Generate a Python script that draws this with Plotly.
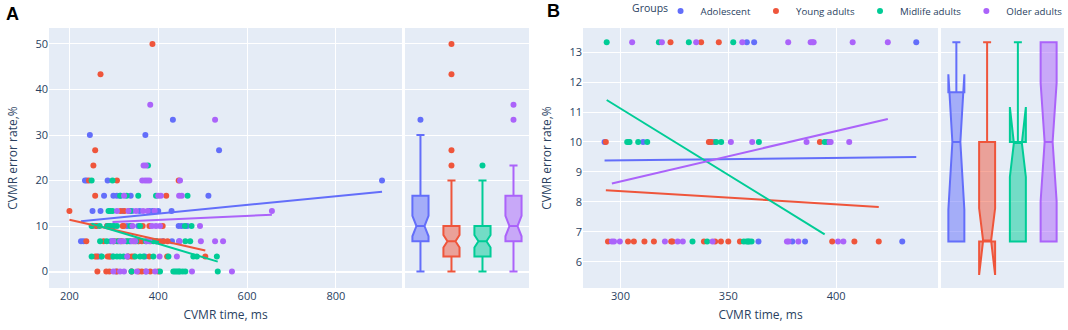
import plotly.graph_objects as go

GROUPS = ["Adolescent", "Young adults", "Midlife adults", "Older adults"]
COLORS = ["#636efa", "#EF553B", "#00cc96", "#ab63fa"]

# ---------- Panel A : CVMR time (ms) per error-rate row ----------
A_ADOLESCENT = {
    0: [305, 340, 372],
    3.33: [265, 271, 297, 331, 370],
    6.67: [226, 232, 293, 315, 338, 356, 395, 410, 431, 447],
    10: [260, 285, 300, 330, 355, 446, 453, 465],
    13.33: [252, 270, 320, 341, 358, 380, 387, 400, 430],
    16.67: [278, 299, 307, 315, 338, 513],
    20: [235, 239, 286, 904],
    26.67: [537],
    30: [246, 371],
    33.33: [433],
}
A_YOUNG = {
    0: [263, 283, 290, 307, 340, 356, 363, 382, 400],
    3.33: [258, 262, 286, 290, 292, 333, 340, 345, 380, 420, 506],
    6.67: [238, 277, 300, 307, 318, 330, 345, 355, 363, 383, 397, 404, 412, 421],
    10: [252, 261, 285, 290, 320, 322, 340, 365, 380, 410],
    13.33: [200, 315, 324, 334],
    16.67: [258, 418],
    20: [244, 307, 446],
    23.33: [254],
    26.67: [258],
    43.33: [270],
    50: [387],
}
A_MIDLIFE = {
    0: [340, 404, 434, 438, 442, 446, 449, 455, 461, 534],
    3.33: [250, 273, 299, 307, 314, 322, 348, 359, 367, 389, 423, 479, 487, 532],
    6.67: [269, 284, 300, 310, 329, 335, 350, 372, 389, 395, 461, 472],
    10: [250, 268, 286, 292, 299, 307, 337, 359, 460, 475],
    13.33: [288, 292, 297, 337],
    16.67: [314, 329, 355, 395, 466],
    20: [250, 297],
    23.33: [377],
}
A_OLDER = {
    0: [299, 314, 323, 352, 373, 393, 476, 566],
    3.33: [330, 403, 442],
    6.67: [297, 299, 314, 322, 341, 348, 374, 380, 448, 496, 528, 546],
    10: [342, 386, 395, 404, 494],
    13.33: [307, 333, 350, 366, 376, 392, 656],
    16.67: [323, 400, 406, 447, 453],
    20: [364, 370, 375, 380, 449],
    23.33: [367, 372],
    33.33: [528],
    36.67: [382],
}
A_TREND_SLOPE = [0.00962, -0.0221, -0.0293, 0.00444]
A_TREND_INTERCEPT = [8.86, 15.82, 17.83, 9.586]

# ---------- Panel B ----------
B_ADOLESCENT = {
    13.33: [358.6, 362.0, 437.2],
    10: [292.6, 310.5, 341.5, 343.5, 395.9],
    6.67: [364.0, 379.7, 385.6, 430.7],
}
B_YOUNG = {
    13.33: [323.2, 337.4, 345.6],
    10: [293.2, 341.0, 342.1, 392.5],
    6.67: [294.2, 303.5, 306.2, 311.1, 315.5, 323.5, 324.1, 338.7, 343.9,
           346.6, 350.0, 355.4, 398.2, 408.5, 419.8],
}
B_MIDLIFE = {
    13.33: [293.6, 317.8, 331.7, 352.3],
    10: [303.1, 303.8, 304.2, 308.2, 312.4, 344.4, 346.7, 364.2, 394.7],
    6.67: [333.4, 340.2, 357.2, 358.5, 359.2, 359.7, 360.8],
}
B_OLDER = {
    13.33: [305.4, 319.2, 335.1, 356.5, 377.8, 388.2, 389.0, 389.6, 407.7, 424.0],
    10: [351.2, 361.1, 386.3, 397.0, 397.5, 406.1],
    6.67: [296.0, 297.0, 299.7, 320.6, 326.5, 328.9, 342.7, 377.2, 378.0,
           382.5, 400.9, 403.4],
}
B_TREND_SLOPE = [0.00083, -0.00442, -0.0444, 0.01688]
B_TREND_INTERCEPT = [9.137, 9.686, 24.44, 3.614]

A_TICKS_X = [200, 400, 600, 800]
A_TICKS_Y = [0, 10, 20, 30, 40, 50]
B_TICKS_X = [300, 350, 400]
B_TICKS_Y = [6, 7, 8, 9, 10, 11, 12, 13]


def flatten(rows):
    xs, ys = [], []
    for yv, xl in rows.items():
        for xv in xl:
            xs.append(xv)
            ys.append(yv)
    return xs, ys


fig = go.Figure()

panels = [
    ([A_ADOLESCENT, A_YOUNG, A_MIDLIFE, A_OLDER], A_TREND_SLOPE, A_TREND_INTERCEPT, "x", "y", "x2", "y2", True),
    ([B_ADOLESCENT, B_YOUNG, B_MIDLIFE, B_OLDER], B_TREND_SLOPE, B_TREND_INTERCEPT, "x3", "y3", "x4", "y4", False),
]

for data, slopes, inters, xs_ax, ys_ax, xb_ax, yb_ax, show_leg in panels:
    for i, rows in enumerate(data):
        xs, ys = flatten(rows)
        fig.add_trace(go.Scatter(
            x=xs, y=ys, mode="markers", name=GROUPS[i], legendgroup=GROUPS[i],
            showlegend=show_leg, marker=dict(color=COLORS[i], size=6),
            xaxis=xs_ax, yaxis=ys_ax))
    for i, rows in enumerate(data):
        xs, ys = flatten(rows)
        fig.add_trace(go.Box(
            x=[GROUPS[i]] * len(ys), y=ys, name=GROUPS[i], legendgroup=GROUPS[i],
            showlegend=False, notched=True, boxpoints="outliers", width=0.52,
            marker=dict(color=COLORS[i], size=6), line=dict(color=COLORS[i], width=2),
            xaxis=xb_ax, yaxis=yb_ax))
    for i, rows in enumerate(data):
        xs, _ = flatten(rows)
        x0, x1 = min(xs), max(xs)
        fig.add_trace(go.Scatter(
            x=[x0, x1], y=[inters[i] + slopes[i] * x0, inters[i] + slopes[i] * x1],
            mode="lines", line=dict(color=COLORS[i], width=2), showlegend=False,
            legendgroup=GROUPS[i], xaxis=xs_ax, yaxis=ys_ax, hoverinfo="skip"))

tickfont = dict(size=11)
box_x = dict(type="category", categoryorder="array", categoryarray=GROUPS,
             range=[-0.5, 3.5], showticklabels=False, showgrid=False, ticks="",
             zeroline=False)
xtitle = dict(text="CVMR time, ms", font=dict(size=12), standoff=8)
ytitle = dict(text="CVMR error rate,%", font=dict(size=12))

fig.update_layout(
    width=1068, height=330,
    template="plotly",
    font=dict(family="Open Sans, verdana, arial, sans-serif", size=12, color="#2a3f5f"),
    margin=dict(l=49, r=4, t=28, b=42, autoexpand=False),
    boxmode="overlay",
    xaxis=dict(domain=[0, 0.3478], range=[154, 949], tickvals=A_TICKS_X,
               title=xtitle, tickfont=tickfont, anchor="y", zeroline=False),
    yaxis=dict(domain=[0, 1], range=[-3.6, 53.5], tickvals=A_TICKS_Y,
               title=ytitle, tickfont=tickfont, anchor="x"),
    xaxis2=dict(domain=[0.3507, 0.4729], anchor="y2", **box_x),
    yaxis2=dict(domain=[0, 1], matches="y", anchor="x2", showticklabels=False,
                tickvals=A_TICKS_Y),
    xaxis3=dict(domain=[0.5261, 0.8759], range=[282.6, 447.3], tickvals=B_TICKS_X,
                title=xtitle, tickfont=tickfont, anchor="y3", zeroline=False),
    yaxis3=dict(domain=[0, 1], range=[5.12, 13.81], tickvals=B_TICKS_Y,
                title=ytitle, tickfont=tickfont, anchor="x3"),
    xaxis4=dict(domain=[0.8788, 1.0], anchor="y4", **box_x),
    yaxis4=dict(domain=[0, 1], matches="y3", anchor="x4", showticklabels=False,
                tickvals=B_TICKS_Y),
    legend=dict(orientation="h", xref="container", yref="container",
                x=0.6185, xanchor="left", y=0.967, yanchor="middle",
                font=dict(size=9.7), bgcolor="rgba(0,0,0,0)"),
    annotations=[
        dict(text="<b>A</b>", x=-0.0355, y=1.052, xref="paper", yref="paper",
             xanchor="center", yanchor="middle",
             showarrow=False, font=dict(family="Arial", size=18, color="black")),
        dict(text="<b>B</b>", x=0.4966, y=1.065, xref="paper", yref="paper",
             xanchor="center", yanchor="middle",
             showarrow=False, font=dict(family="Arial", size=18, color="black")),
        dict(text="Groups", x=0.5724, y=1.0775, xref="paper", yref="paper",
             xanchor="left", yanchor="middle", showarrow=False,
             font=dict(size=10.5, color="#2a3f5f")),
    ],
)

fig.write_html("out.html", config={"displayModeBar": False},
               post_script="document.body.style.margin='0px';")
